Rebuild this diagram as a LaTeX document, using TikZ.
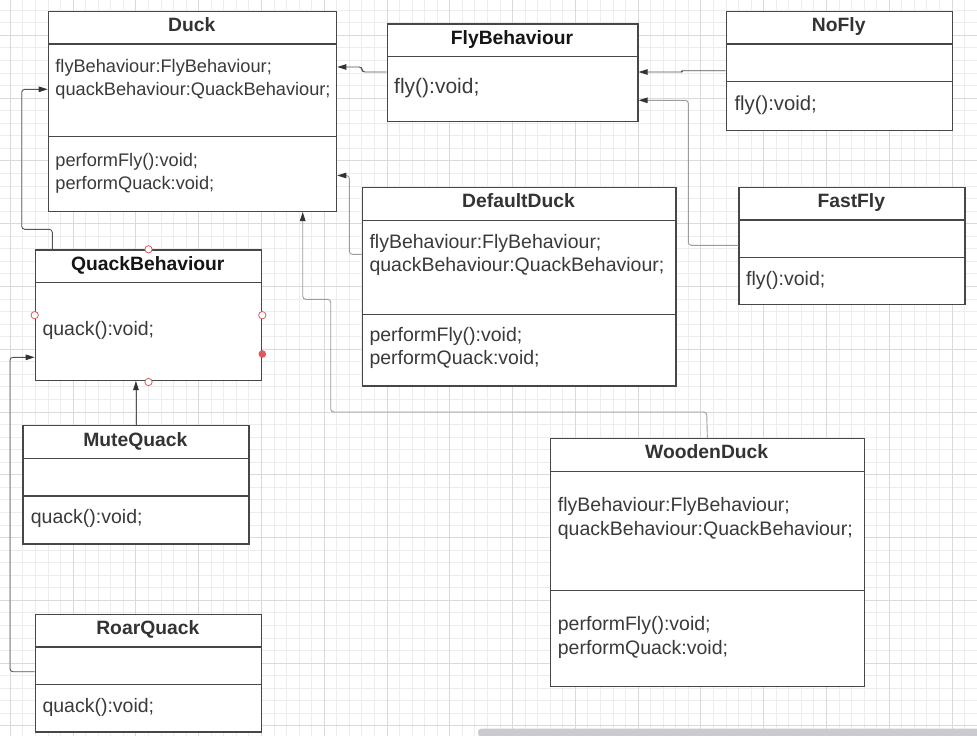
\documentclass[tikz,border=0pt]{standalone}
\usepackage{fontspec}
\setmainfont{Liberation Sans}
\usetikzlibrary{arrows.meta,calc}
\definecolor{boxcol}{HTML}{474747}
\definecolor{hdrcol}{HTML}{333333}
\definecolor{hdrdark}{HTML}{151515}
\definecolor{txtcol}{HTML}{3A3A3A}
\definecolor{conndark}{HTML}{555555}
\definecolor{connlt}{HTML}{9C9C9C}
\definecolor{arrowcol}{HTML}{333333}
\definecolor{minorgrid}{HTML}{EDEDED}
\definecolor{majorgrid}{HTML}{DADADA}
\definecolor{portred}{HTML}{E0585E}
\definecolor{scrollcol}{HTML}{C9CBCE}
\newcommand\hdrfont{\fontsize{19.3}{23}\selectfont\bfseries}
\newcommand\bodyfont{\fontsize{19.5}{23}\selectfont}
\newcommand\duckfont{\fontsize{18.2}{22}\selectfont}
\tikzset{
  umlbox/.style={rectangle, draw=boxcol, line width=1.3pt, fill=white, inner sep=0pt, anchor=north west},
  hdr/.style={font=\hdrfont, text=hdrcol, anchor=base, inner sep=0pt},
  body/.style={font=\bodyfont, text=txtcol, anchor=base west, inner sep=0pt},
  divider/.style={draw=boxcol, line width=1.3pt},
  conn/.style={draw=conndark, line width=0.9pt, rounded corners=3pt, -{Triangle[length=9pt,width=5.5pt,color=arrowcol]}},
  connlight/.style={conn, draw=connlt},
  port/.style={circle, draw=portred, fill=white, line width=0.8pt, inner sep=0pt, minimum size=7.3pt},
  portfull/.style={circle, fill=portred, inner sep=0pt, minimum size=7.6pt},
}
\newcommand\divline[2]{\draw[divider] ($(#1.north west)+(0,#2)$) -- ($(#1.north east)+(0,#2)$);}
\begin{document}
\begin{tikzpicture}[x=1pt,y=-1pt]
\useasboundingbox (0,0) rectangle (977,736);
\clip (0,0) rectangle (977,736);
\fill[white] (0,0) rectangle (977,736);
% grid
\foreach \i in {-1,...,78} {\draw[minorgrid, line width=1pt] ({10.4+12.556*\i},0) -- ({10.4+12.556*\i},736);}
\foreach \i in {-3,...,56} {\draw[minorgrid, line width=1pt] (0,{35.4+12.556*\i}) -- (977,{35.4+12.556*\i});}
\foreach \i in {0,...,15} {\draw[majorgrid, line width=1pt] ({10.4+62.78*\i},0) -- ({10.4+62.78*\i},736);}
\foreach \i in {-1,...,11} {\draw[majorgrid, line width=1pt] (0,{35.4+62.78*\i}) -- (977,{35.4+62.78*\i});}

% ---------- boxes ----------
% Duck
\node[umlbox, minimum width=288.3pt, minimum height=200pt] (duck) at (47.7,10.7) {};
\divline{duck}{33.3}
\divline{duck}{126}
\node[hdr] (duckT) at (191.8,31.7) {Duck};
\node[body, font=\duckfont] (duckA1) at (55.2,72.7) {flyBehaviour:FlyBehaviour;};
\node[body, font=\duckfont] (duckA2) at (55.2,95) {quackBehaviour:QuackBehaviour;};
\node[body, font=\duckfont] (duckM1) at (55.2,166.7) {performFly():void;};
\node[body, font=\duckfont] (duckM2) at (55.2,189) {performQuack:void;};

% FlyBehaviour
\node[umlbox, minimum width=250.6pt, minimum height=97.7pt] (fly) at (386.7,23.3) {};
\divline{fly}{33.4}
\node[hdr, text=hdrdark] (flyT) at (512,44.3) {FlyBehaviour};
\node[body, font=\fontsize{21}{24}\selectfont] (flyM) at (394,93.3) {fly():void;};

% NoFly
\node[umlbox, minimum width=226pt, minimum height=119pt] (nofly) at (725.7,10.7) {};
\divline{nofly}{33.3}
\divline{nofly}{70.6}
\node[hdr] (noflyT) at (838.7,31.7) {NoFly};
\node[body, font=\fontsize{20.3}{24}\selectfont] (noflyM) at (734.3,110.7) {fly():void;};

% FastFly
\node[umlbox, minimum width=226pt, minimum height=117.3pt] (fastfly) at (738.3,186.7) {};
\divline{fastfly}{33.3}
\divline{fastfly}{70.6}
\node[hdr] (fastflyT) at (851.3,207.7) {FastFly};
\node[body] (fastflyM) at (746,285.7) {fly():void;};

% DefaultDuck
\node[umlbox, minimum width=313.6pt, minimum height=198.6pt] (ddd) at (361.7,186.7) {};
\divline{ddd}{33.6}
\divline{ddd}{127.6}
\node[hdr] (dddT) at (518.5,207.7) {DefaultDuck};
\node[body] (dddA1) at (369.3,248.3) {flyBehaviour:FlyBehaviour;};
\node[body] (dddA2) at (369.3,271.7) {quackBehaviour:QuackBehaviour;};
\node[body] (dddM1) at (369.3,341.7) {performFly():void;};
\node[body] (dddM2) at (369.3,364) {performQuack:void;};

% QuackBehaviour
\node[umlbox, minimum width=226.3pt, minimum height=130.4pt] (qb) at (34.7,249.3) {};
\divline{qb}{33.4}
\node[hdr, text=hdrdark] (qbT) at (147.8,270.2) {QuackBehaviour};
\node[body] (qbM) at (42.3,335.3) {quack():void;};

% MuteQuack
\node[umlbox, minimum width=226pt, minimum height=118.3pt] (mute) at (22.3,425) {};
\divline{mute}{33.7}
\divline{mute}{71}
\node[hdr] (muteT) at (135.3,446) {MuteQuack};
\node[body] (muteM) at (30.7,523.3) {quack():void;};

% RoarQuack
\node[umlbox, minimum width=226.3pt, minimum height=117.6pt] (roar) at (34.7,613.7) {};
\divline{roar}{33.3}
\divline{roar}{70.6}
\node[hdr] (roarT) at (147.8,634.2) {RoarQuack};
\node[body] (roarM) at (42.3,712.3) {quack():void;};

% WoodenDuck
\node[umlbox, minimum width=314pt, minimum height=248.3pt] (wood) at (549.7,437.7) {};
\divline{wood}{33.6}
\divline{wood}{152.6}
\node[hdr] (woodT) at (706.7,458.5) {WoodenDuck};
\node[body] (woodA1) at (557.7,511) {flyBehaviour:FlyBehaviour;};
\node[body] (woodA2) at (557.7,535) {quackBehaviour:QuackBehaviour;};
\node[body] (woodM1) at (557.7,630) {performFly():void;};
\node[body] (woodM2) at (557.7,654) {performQuack:void;};

% ---------- connectors ----------
\draw[conn] (fly.west |- 0,72) -- (362,72) -- (362,67) -- (duck.east |- 0,67);
\draw[conn, rounded corners=1pt] (nofly.west |- 0,70.7) -- (682,70.7) -- (682,72) -- (fly.east |- 0,72);
\draw[connlight] (fastfly.west |- 0,245.3) -- (688.3,245.3) -- (688.3,100.3) -- (fly.east |- 0,100.3);
\draw[connlight] (ddd.west |- 0,254.3) -- (349.3,254.3) -- (349.3,175.5) -- (duck.east |- 0,175.5);
\draw[connlight] (wood.north) -- (706.7,412) -- (330.7,412) -- (330.7,299.3) -- (302.7,299.3) -- (duck.south -| 302.7,0);
\draw[conn] (qb.north -| 52.3,0) -- (52.3,229.3) -- (21.7,229.3) -- (21.7,89.3) -- (duck.west |- 0,89.3);
\draw[conn] (mute.north) -- (mute.north |- qb.south);
\draw[conn] (roar.west |- 0,671.7) -- (10,671.7) -- (10,357.3) -- (qb.west |- 0,357.3);

% ---------- selection ports ----------
\node[port] (pN) at (qb.north) {};
\node[port] (pW) at (qb.west) {};
\node[port] (pE) at (qb.east) {};
\node[port] (pS) at ($(qb.south)+(0,1)$) {};
\node[portfull] (pF) at (qb.east |- 0,354) {};

% scrollbar
\fill[scrollcol, rounded corners=3.5pt] (478,728.5) rectangle (990,737);
\end{tikzpicture}
\end{document}
